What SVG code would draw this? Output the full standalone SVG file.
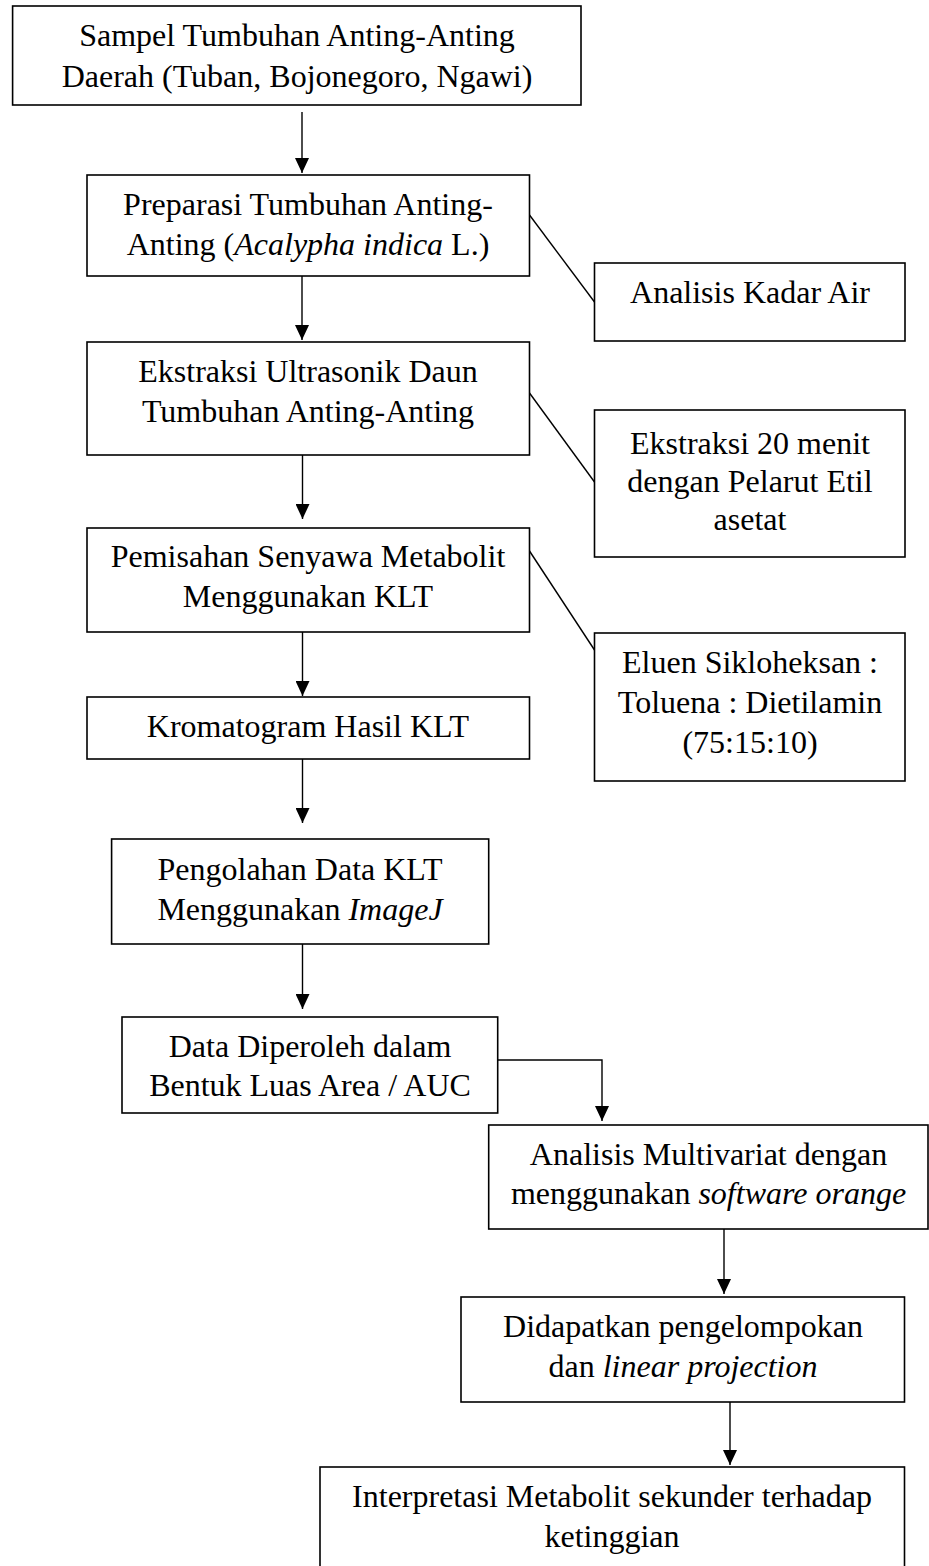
<svg xmlns="http://www.w3.org/2000/svg" width="929" height="1566" viewBox="0 0 929 1566">
<style>
  .box { fill: #fff; stroke: #000; stroke-width: 1.6; }
  .t { font-family: "Liberation Serif", "Times New Roman", serif; font-size: 32px; fill: #000; text-anchor: middle; }
  .i { font-style: italic; }
  .ln { fill: none; stroke: #000; stroke-width: 1.4; }
</style>
<defs>
  <marker id="ah" markerUnits="userSpaceOnUse" viewBox="0 0 15 14" refX="15" refY="7" markerWidth="15" markerHeight="14" orient="auto">
    <path d="M0,0 L15,7 L0,14 z" fill="#000"/>
  </marker>
</defs>
<rect width="929" height="1566" fill="#fff"/>

<g id="connectors">
  <line class="ln" x1="302" y1="112" x2="302" y2="173" marker-end="url(#ah)"/>
  <line class="ln" x1="302" y1="276" x2="302" y2="340" marker-end="url(#ah)"/>
  <line class="ln" x1="302.5" y1="455" x2="302.5" y2="519" marker-end="url(#ah)"/>
  <line class="ln" x1="302.5" y1="632" x2="302.5" y2="696" marker-end="url(#ah)"/>
  <line class="ln" x1="302.5" y1="759" x2="302.5" y2="823" marker-end="url(#ah)"/>
  <line class="ln" x1="302.5" y1="944" x2="302.5" y2="1009" marker-end="url(#ah)"/>
  <polyline class="ln" points="497.7,1060 602,1060 602,1121" marker-end="url(#ah)"/>
  <line class="ln" x1="724" y1="1229" x2="724" y2="1294" marker-end="url(#ah)"/>
  <line class="ln" x1="730" y1="1402" x2="730" y2="1465" marker-end="url(#ah)"/>
  <line class="ln" x1="529.5" y1="215" x2="594.5" y2="302"/>
  <line class="ln" x1="529.5" y1="393" x2="594.5" y2="482"/>
  <line class="ln" x1="529.5" y1="551" x2="594.5" y2="650"/>
</g>

<g id="n1">
  <rect class="box" x="12.6" y="6" width="568.4" height="99"/>
  <text class="t" x="297" y="46">Sampel Tumbuhan Anting-Anting</text>
  <text class="t" x="297" y="87">Daerah (Tuban, Bojonegoro, Ngawi)</text>
</g>

<g id="n2">
  <rect class="box" x="87" y="175" width="442.5" height="101"/>
  <text class="t" x="308" y="215">Preparasi Tumbuhan Anting-</text>
  <text class="t" x="308" y="255">Anting (<tspan class="i">Acalypha indica</tspan> L.)</text>
</g>

<g id="n3">
  <rect class="box" x="87" y="342" width="442.5" height="113"/>
  <text class="t" x="308" y="382">Ekstraksi Ultrasonik Daun</text>
  <text class="t" x="308" y="422">Tumbuhan Anting-Anting</text>
</g>

<g id="n4">
  <rect class="box" x="87" y="528" width="442.5" height="104"/>
  <text class="t" x="308" y="567">Pemisahan Senyawa Metabolit</text>
  <text class="t" x="308" y="607">Menggunakan KLT</text>
</g>

<g id="n5">
  <rect class="box" x="87" y="697" width="442.5" height="62"/>
  <text class="t" x="308" y="737">Kromatogram Hasil KLT</text>
</g>

<g id="n6">
  <rect class="box" x="111.6" y="839" width="377.1" height="105"/>
  <text class="t" x="300" y="880">Pengolahan Data KLT</text>
  <text class="t" x="300" y="920">Menggunakan <tspan class="i">ImageJ</tspan></text>
</g>

<g id="n7">
  <rect class="box" x="122" y="1017" width="375.7" height="96"/>
  <text class="t" x="310" y="1057">Data Diperoleh dalam</text>
  <text class="t" x="310" y="1096">Bentuk Luas Area / AUC</text>
</g>

<g id="n8">
  <rect class="box" x="488.7" y="1125" width="439.3" height="104"/>
  <text class="t" x="708.5" y="1165">Analisis Multivariat dengan</text>
  <text class="t" x="708.5" y="1204">menggunakan <tspan class="i">software orange</tspan></text>
</g>

<g id="n9">
  <rect class="box" x="461" y="1297" width="443.5" height="105"/>
  <text class="t" x="683" y="1337">Didapatkan pengelompokan</text>
  <text class="t" x="683" y="1377">dan <tspan class="i">linear projection</tspan></text>
</g>

<g id="n10">
  <rect class="box" x="320" y="1467" width="584.5" height="110"/>
  <text class="t" x="612" y="1507">Interpretasi Metabolit sekunder terhadap</text>
  <text class="t" x="612" y="1547">ketinggian</text>
</g>

<g id="s1">
  <rect class="box" x="594.5" y="263" width="310.5" height="78"/>
  <text class="t" x="750" y="303">Analisis Kadar Air</text>
</g>

<g id="s2">
  <rect class="box" x="594.5" y="410" width="310.5" height="147"/>
  <text class="t" x="750" y="454">Ekstraksi 20 menit</text>
  <text class="t" x="750" y="492">dengan Pelarut Etil</text>
  <text class="t" x="750" y="530">asetat</text>
</g>

<g id="s3">
  <rect class="box" x="594.5" y="633" width="310.5" height="148"/>
  <text class="t" x="750" y="673">Eluen Sikloheksan :</text>
  <text class="t" x="750" y="713">Toluena : Dietilamin</text>
  <text class="t" x="750" y="753">(75:15:10)</text>
</g>
</svg>
